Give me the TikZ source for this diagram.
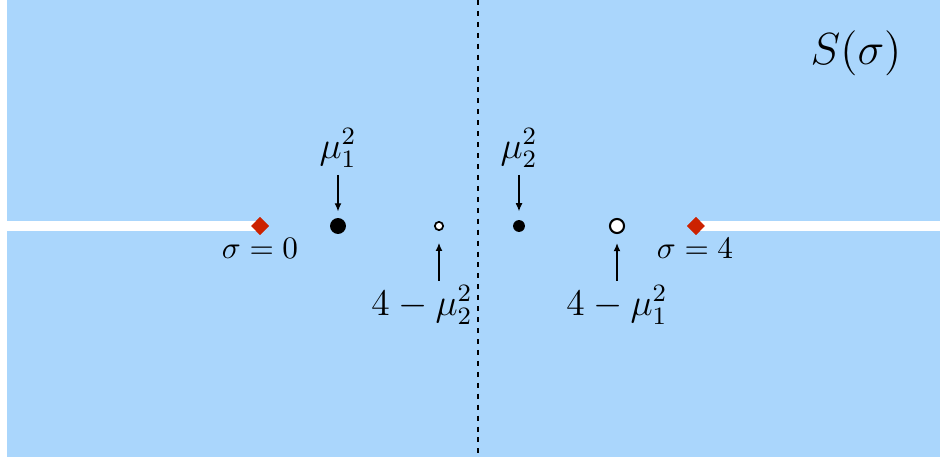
\documentclass[tikz,border=0pt]{standalone}
\usetikzlibrary{arrows.meta,shapes.geometric}
\definecolor{planeblue}{RGB}{170,214,252}
\definecolor{threshred}{RGB}{204,34,0}
\begin{document}
\begin{tikzpicture}[x=0.32pt, y=-0.32pt,
    cut/.style={white, line width=3.5pt},
    thresh/.style={diamond, fill=threshred, inner sep=0pt, minimum size=5.8pt},
    pole/.style={circle, fill=black, inner sep=0pt},
    ghost/.style={circle, draw=black, fill=white, inner sep=0pt},
    lab/.style={inner sep=0pt, font=\large},
    arr/.style={-{Latex[length=2.6pt,width=2.2pt]}, line width=0.4pt}]
    \useasboundingbox (0,0) rectangle (942,461);
    % the sigma plane
    \fill[planeblue] (7,0) rectangle (940,457);
    \draw[line width=0.8pt, dash pattern=on 1.6pt off 1.9pt] (478,0) -- (478,457);
    \node[font=\fontsize{15.5}{18}\selectfont] (title) at (856,53) {$S(\sigma)$};

    % cuts and thresholds
    \coordinate (west) at (7,226);
    \coordinate (east) at (940,226);
    \node[thresh] (th0) at (260,226) {};
    \node[thresh] (th4) at (696,226) {};
    \draw[cut] (west) -- (th0.center);
    \draw[cut] (th4.center) -- (east);
    \node[thresh] at (th0) {};
    \node[thresh] at (th4) {};
    \node (th0lab) at (260,248) {$\sigma=0$};
    \node (th4lab) at (695,248) {$\sigma=4$};

    % poles
    \node[pole, minimum size=5.1pt] (p1) at (338,226) {};
    \node[pole, minimum size=3.8pt] (p2) at (519,226) {};
    \node[lab] (p1lab) at (338,148) {$\mu_1^2$};
    \node[lab] (p2lab) at (519,148) {$\mu_2^2$};
    \draw[arr, shorten <=2.2pt, shorten >=1.9pt] (p1lab) -- (p1);
    \draw[arr, shorten <=2.2pt, shorten >=2.6pt] (p2lab) -- (p2);

    % images 4 - mu^2
    \node[ghost, minimum size=2.65pt, line width=0.55pt] (g2) at (439,226) {};
    \node[ghost, minimum size=4.5pt, line width=0.65pt] (g1) at (617,226) {};
    \node[lab] (g2lab) at (422,305) {$4-\mu_2^2$};
    \node[lab] (g1lab) at (617,305) {$4-\mu_1^2$};
    \draw[arr, shorten <=1.3pt, shorten >=3.8pt] (g2lab.north -| g2) -- (g2);
    \draw[arr, shorten <=1.3pt, shorten >=2.9pt] (g1lab.north -| g1) -- (g1);
\end{tikzpicture}
\end{document}
